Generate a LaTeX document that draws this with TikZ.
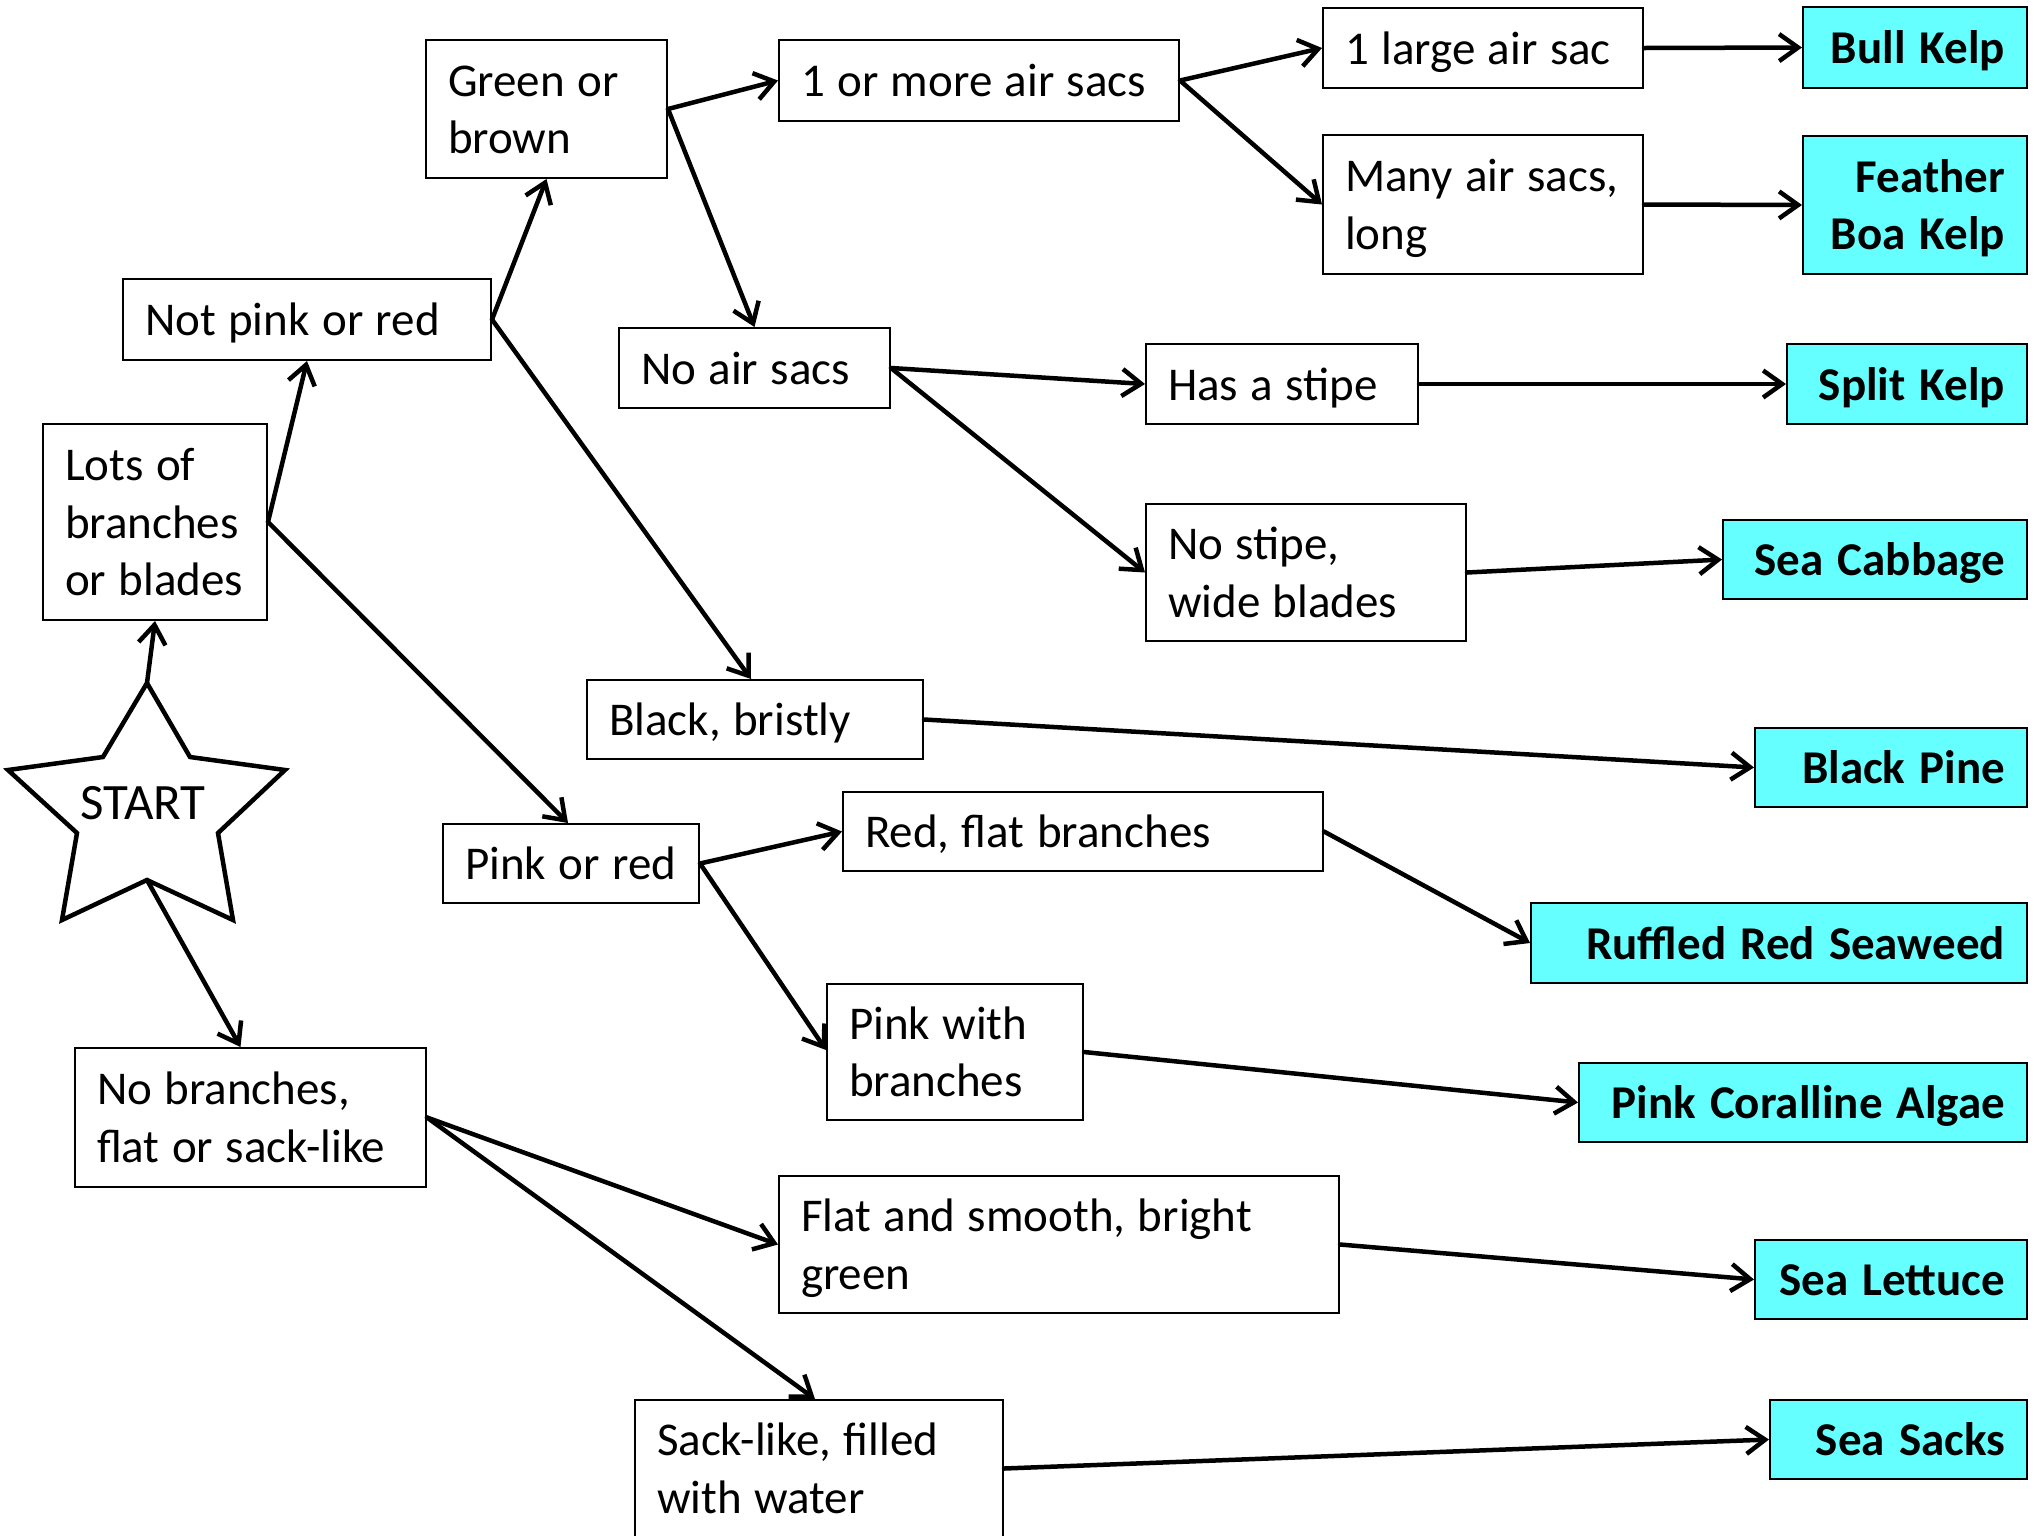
\documentclass[tikz,border=0pt]{standalone}
\usepackage{fontspec}
\setmainfont{Carlito}
\usetikzlibrary{arrows.meta}
\definecolor{resfill}{RGB}{102,255,255}
\newcommand{\nb}[1]{\mbox{\spaceskip=0.265em\relax\rule[-9pt]{0pt}{50pt}#1}}
\newcommand{\nbb}[1]{\mbox{\spaceskip=0.3em\relax\rule[-9pt]{0pt}{50pt}#1}}
\begin{document}
\begin{tikzpicture}[x=1pt,y=-1pt,
  font=\fontsize{47}{57.5}\selectfont,
  q/.style={draw, line width=2pt, inner xsep=22pt, inner ysep=0pt, align=left},
  res/.style={draw, fill=resfill, line width=2pt, inner xsep=22pt, inner ysep=0pt, align=right,
    font=\fontsize{47}{57.5}\selectfont\bfseries},
  arr/.style={line width=4.5pt, line cap=round, -{Straight Barb[length=19pt,width=27pt]}}]
\useasboundingbox (0,0) rectangle (2038,1535);
\clip (0,0) rectangle (2038,1535);

% decision boxes
\node[q, text width=180pt, minimum height=196pt] (lots) at (155,522) {\nb{Lots of}\\\nb{branches}\\\nb{or blades}};
\node[q, text width=324pt, minimum height=81pt] (notpink) at (307,319.5) {\nb{Not pink or red}};
\node[q, text width=197pt, minimum height=138pt] (green) at (546.5,109) {\nb{Green or}\\\nb{brown}};
\node[q, text width=356pt, minimum height=81pt] (airsacs) at (979,80.5) {\nb{1 or more air sacs}};
\node[q, text width=276pt, minimum height=80pt] (large) at (1483,48) {\nb{1 large air sac}};
\node[q, text width=276pt, minimum height=139pt] (many) at (1483,204.5) {\nb{Many air sacs,}\\\nb{long}};
\node[q, text width=227pt, minimum height=80pt] (noair) at (754.5,368) {\nb{No air sacs}};
\node[q, text width=228pt, minimum height=80pt] (stipe) at (1282,384) {\nb{Has a stipe}};
\node[q, text width=276pt, minimum height=137pt] (nostipe) at (1306,572.5) {\nb{No stipe,}\\\nb{wide blades}};
\node[q, text width=292pt, minimum height=79pt] (black) at (755,719.5) {\nb{Black, bristly}};
\node[q, text width=212pt, minimum height=79pt] (pink) at (571,863.5) {\nb{Pink or red}};
\node[q, text width=436pt, minimum height=79pt] (redflat) at (1083,831.5) {\nb{Red, flat branches}};
\node[q, text width=212pt, minimum height=136pt] (pinkbr) at (955,1052) {\nb{Pink with}\\\nb{branches}};
\node[q, text width=307pt, minimum height=139pt] (nobr) at (250.5,1117.5) {\nb{No branches,}\\\nb{flat or sack-like}};
\node[q, text width=516pt, minimum height=137pt] (flat) at (1059,1244.5) {\nb{Flat and smooth, bright}\\\nb{green}};
\node[q, text width=324pt, minimum height=137pt] (sack) at (819,1468.5) {\nb{Sack-like, filled}\\\nb{with water}};

% result boxes
\node[res, text width=180pt, minimum height=81pt] (bull) at (1915,47.5) {\nbb{Bull Kelp}};
\node[res, text width=180pt, minimum height=138pt] (feather) at (1915,205) {\nbb{Feather}\\\nbb{Boa Kelp}};
\node[res, text width=196pt, minimum height=80pt] (split) at (1907,384) {\nbb{Split Kelp}};
\node[res, text width=260pt, minimum height=79pt] (cabbage) at (1875,559.5) {\nbb{Sea Cabbage}};
\node[res, text width=228pt, minimum height=79pt] (pine) at (1891,767.5) {\nbb{Black Pine}};
\node[res, text width=452pt, minimum height=80pt] (ruffled) at (1779,943) {\nbb{Ruffled Red Seaweed}};
\node[res, text width=404pt, minimum height=79pt] (coralline) at (1803,1102.5) {\nbb{Pink Coralline Algae}};
\node[res, text width=228pt, minimum height=79pt] (lettuce) at (1891,1279.5) {\nbb{Sea Lettuce}};
\node[res, text width=213pt, minimum height=79pt] (seasacks) at (1898.5,1439.5) {\nbb{Sea Sacks}};

% star
\coordinate (startop) at (147,683);
\coordinate (starbot) at (147,880);
\draw[line width=4.5pt, line join=miter, fill=white]
  (startop) -- (190,757) -- (285,770) -- (218,833) -- (233,920) -- (starbot)
  -- (62,920) -- (77,833) -- (8,770) -- (103,757) -- cycle;
\node[font=\fontsize{51}{60}\selectfont] (startlbl) at (143,803) {START};

% connectors
\draw[arr] (startop) -- (lots.south);
\draw[arr] (starbot) -- ([xshift=-10pt]nobr.north);
\draw[arr] (lots.east) -- (notpink.south);
\draw[arr] (lots.east) -- ([xshift=-3pt]pink.north);
\draw[arr] (notpink.east) -- (green.south);
\draw[arr] (notpink.east) -- ([xshift=-4pt]black.north);
\draw[arr] (green.east) -- (airsacs.west);
\draw[arr] (green.east) -- (noair.north);
\draw[arr] (airsacs.east) -- (large.west);
\draw[arr] (airsacs.east) -- (many.west);
\draw[arr] (large.east) -- (bull.west);
\draw[arr] (many.east) -- (feather.west);
\draw[arr] (noair.east) -- (stipe.west);
\draw[arr] (noair.east) -- (nostipe.west);
\draw[arr] (stipe.east) -- (split.west);
\draw[arr] (nostipe.east) -- (cabbage.west);
\draw[arr] (black.east) -- (pine.west);
\draw[arr] (pink.east) -- (redflat.west);
\draw[arr] (pink.east) -- ([yshift=2pt]pinkbr.west);
\draw[arr] (redflat.east) -- (ruffled.west);
\draw[arr] (pinkbr.east) -- (coralline.west);
\draw[arr] (nobr.east) -- (flat.west);
\draw[arr] (nobr.east) -- ([xshift=-4pt]sack.north);
\draw[arr] (flat.east) -- (lettuce.west);
\draw[arr] (sack.east) -- (seasacks.west);
\end{tikzpicture}
\end{document}
